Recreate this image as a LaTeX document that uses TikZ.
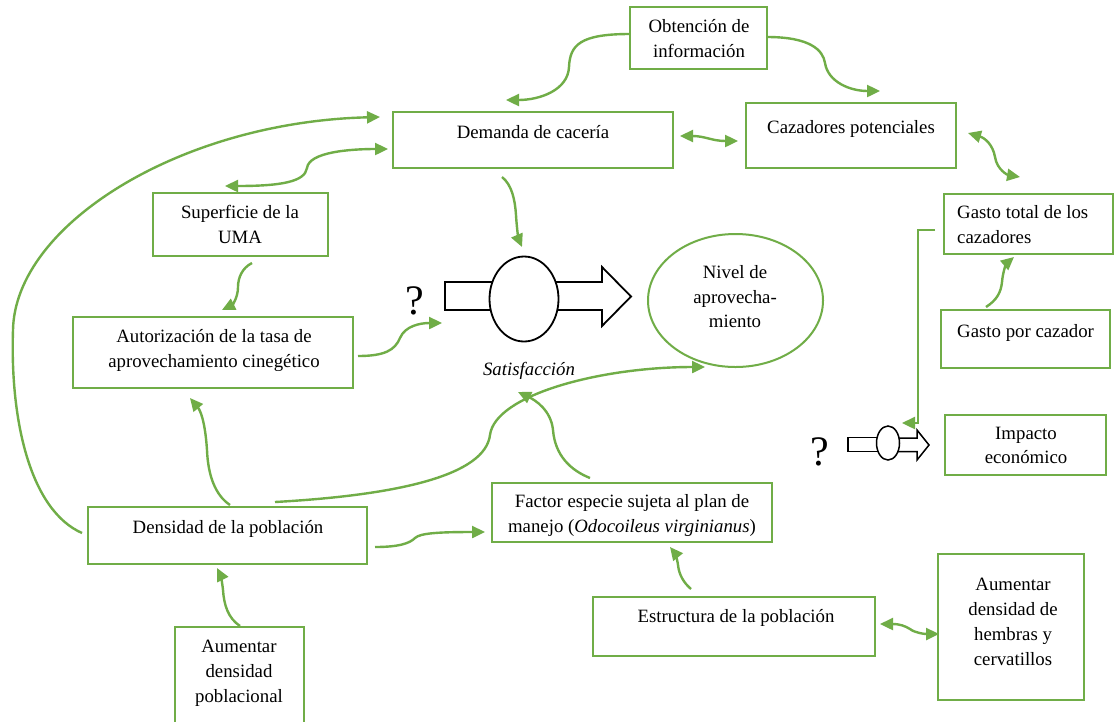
\documentclass[tikz,border=0pt]{standalone}
\usepackage{fontspec}
\setmainfont{Liberation Serif}
\usetikzlibrary{arrows.meta,calc,shapes.geometric}
\definecolor{lgreen}{RGB}{112,173,71}
\begin{document}
\begin{tikzpicture}[x=1pt,y=-1pt,
  box/.style={draw=lgreen,line width=2pt,inner sep=0pt,outer sep=0pt},
  txt/.style={anchor=base,inner sep=0pt,font=\fontsize{18.8}{25}\selectfont},
  ltxt/.style={txt,anchor=base west},
  flow/.style={draw=lgreen,line width=2.4pt,-{Triangle[length=13pt,width=12pt]}},
  flowtwo/.style={draw=lgreen,line width=2.4pt,{Triangle[length=13pt,width=12pt]}-{Triangle[length=13pt,width=12pt]}},
  valve/.style={draw=black,line width=1.8pt,fill=white,outer sep=0pt},
  valvesmall/.style={draw=black,line width=1.5pt,fill=white,outer sep=0pt},
  qmark/.style={anchor=base,inner sep=0pt,font=\fontsize{42}{42}\selectfont}]

\useasboundingbox (0,0) rectangle (1115,721);
\fill[white] (0,0) rectangle (1115,721);

% ---- boxes ----
\node[box,minimum width=137,minimum height=62] (obt) at (698.5,38) {};
\node[box,minimum width=280,minimum height=56] (dem) at (533,140) {};
\node[box,minimum width=210,minimum height=65] (caz) at (851,135.5) {};
\node[box,minimum width=169,minimum height=60] (gtot) at (1028.5,224) {};
\node[box,minimum width=169,minimum height=58] (gpc) at (1025.5,339) {};
\node[box,minimum width=161,minimum height=60] (imp) at (1025.5,445) {};
\node[box,minimum width=175,minimum height=63] (sup) at (240.5,224.5) {};
\node[box,minimum width=280,minimum height=71] (aut) at (213,352.5) {};
\node[box,minimum width=279,minimum height=57] (den) at (227.5,535.5) {};
\node[box,minimum width=280,minimum height=59] (fac) at (632,512.5) {};
\node[box,minimum width=282,minimum height=59] (est) at (734,626.5) {};
\node[box,minimum width=146,minimum height=146] (hem) at (1011,627) {};
\node[box,minimum width=129,minimum height=113] (aup) at (239.5,683.5) {};
\node[box,ellipse,minimum width=175,minimum height=133] (niv) at (735.5,300.5) {};

% ---- box texts ----
\node[txt] (obt-a) at (699,32) {Obtención de};
\node[txt] (obt-b) at (699,57) {información};
\node[txt] (dem-a) at (533,138) {Demanda de cacería};
\node[txt] (caz-a) at (851,133) {Cazadores potenciales};
\node[ltxt] (gtot-a) at (957,218) {Gasto total de los};
\node[ltxt] (gtot-b) at (957,243) {cazadores};
\node[ltxt] (gpc-a) at (957,337) {Gasto por cazador};
\node[txt] (imp-a) at (1026,439) {Impacto};
\node[txt] (imp-b) at (1026,463) {económico};
\node[txt] (sup-a) at (240,218) {Superficie de la};
\node[txt] (sup-b) at (240,243) {UMA};
\node[txt] (aut-a) at (214,342) {Autorización de la tasa de};
\node[txt] (aut-b) at (214,367) {aprovechamiento cinegético};
\node[txt] (den-a) at (228,533) {Densidad de la población};
\node[txt] (niv-a) at (735,278) {Nivel de};
\node[txt] (niv-b) at (735,303) {aprovecha-};
\node[txt] (niv-c) at (735,327) {miento};
\node[txt,font=\fontsize{18.8}{25}\selectfont\itshape] (sat) at (529,375) {Satisfacción};
\node[txt] (fac-a) at (632,507) {Factor especie sujeta al plan de};
\node[txt] (fac-b) at (632,532) {manejo (\textit{Odocoileus virginianus})};
\node[txt] (est-a) at (736,622) {Estructura de la población};
\node[txt] (hem-a) at (1013,590) {Aumentar};
\node[txt] (hem-b) at (1013,615) {densidad de};
\node[txt] (hem-c) at (1013,640) {hembras y};
\node[txt] (hem-d) at (1013,665) {cervatillos};
\node[txt] (aup-a) at (239,652) {Aumentar};
\node[txt] (aup-b) at (239,677) {densidad};
\node[txt] (aup-c) at (239,702) {poblacional};

% ---- flow valves ----
\draw[valve] (505,282) -- (445,282) -- (445,310) -- (505,310);
\draw[valve] (540,282) -- (602,282) -- (602,267) -- (631,296.5) -- (602,326) -- (602,310) -- (540,310);
\node[valve,ellipse,minimum width=69,minimum height=85,inner sep=0pt] (v1) at (524,299) {};
\node[qmark] (q1) at (415,314) {?};

\draw[valvesmall] (880,437.5) -- (848,437.5) -- (848,451.5) -- (880,451.5);
\draw[valvesmall] (895,438) -- (917,438) -- (917,430) -- (929,445) -- (917,460) -- (917,451.5) -- (895,451.5);
\node[valvesmall,ellipse,minimum width=23,minimum height=34,inner sep=0pt] (v2) at (888,443) {};
\node[qmark] (q2) at (820,465) {?};

% ---- connectors ----
\draw[flow] ($(obt.west)+(0,-4)$) .. controls (580,34) and (570,45) .. (569,67)
  .. controls (568,90) and (540,100) .. ($(dem.north)+(-27,-12)$);
\draw[flow] ($(obt.east)+(0,-1)$) .. controls (810,37) and (823,50) .. (825,63)
  .. controls (828,82) and (850,91) .. ($(caz.north)+(29,-12)$);
\draw[flowtwo] ($(dem.east)+(7,-4)$) .. controls (705,136) and (712,141) .. ($(caz.west)+(-8,5.5)$);
\draw[flowtwo] ($(caz.east)+(12,-2.5)$) .. controls (985,138) and (993,145) .. (995,157)
  .. controls (997,170) and (1008,175) .. ($(gtot.north)+(-8.5,-17)$);
\draw[flow] ($(den.west)+(-6,-2.5)$) .. controls (30,510) and (10,420) .. (13,330)
  .. controls (15,225) and (180,122) .. ($(dem.west)+(-13,-23)$);
\draw[flowtwo] ($(sup.north)+(-15.5,-7)$) .. controls (280,186) and (305,182) .. (307,168)
  .. controls (309,152) and (350,149) .. ($(dem.west)+(-5,9)$);
\draw[flow] ($(sup.south)+(11.5,7)$) .. controls (242,268) and (238,278) .. (238,287)
  .. controls (238,298) and (232,305) .. ($(aut.north)+(9,-7)$);
\draw[flow] ($(aut.east)+(5,3.5)$) .. controls (385,356) and (395,350) .. (400,338)
  .. controls (405,326) and (420,323) .. ($(v1.west)+(-47.5,24)$);
\draw[flow] ($(dem.south)+(-31,9)$) .. controls (512,185) and (515,200) .. (516,215)
  .. controls (517,232) and (519,240) .. ($(v1.north)+(-2,-9.5)$);
\draw[flow] ($(den.north)+(2.5,-2)$) .. controls (215,495) and (208,475) .. (207,450)
  .. controls (205,420) and (200,410) .. ($(aut.south)+(-23,10)$);
\draw[flow] ($(den.north)+(47.5,-5)$) .. controls (400,495) and (485,475) .. (490,435)
  .. controls (495,395) and (600,367) .. ($(niv.south)+(-30.5,0)$);
\draw[flow] ($(fac.north)+(-42,-5)$) .. controls (570,470) and (555,455) .. (553,430)
  .. controls (551,410) and (535,400) .. ($(sat.base)+(-11,17)$);
\draw[flow] ($(den.east)+(8,11.5)$) .. controls (400,547) and (410,543) .. (415,538)
  .. controls (420,533) and (440,532) .. ($(fac.west)+(-7,19.5)$);
\draw[flow] ($(aup.north)+(0.5,-1)$) .. controls (228,618) and (224,605) .. (223,590)
  .. controls (222,580) and (220,574) .. ($(den.south)+(-10.5,4)$);
\draw[flow] ($(est.north)+(-43,-8)$) .. controls (684,583) and (679,575) .. (678,565)
  .. controls (677,557) and (674,552) .. ($(fac.south)+(38,5)$);
\draw[flowtwo] ($(est.east)+(5,-2.5)$) .. controls (900,624) and (905,626) .. (910,629)
  .. controls (915,633) and (925,634) .. ($(hem.west)+(1,7)$);
\draw[flow] ($(gpc.north)+(-39.5,-3)$) .. controls (997,300) and (1001,292) .. (1002,282)
  .. controls (1003,270) and (1007,263) .. ($(gtot.south)+(-14.5,3)$);
\draw[flow] ($(gtot.west)+(-9,6)$) -- (918,230) -- (918,423) -- ($(v2.north)+(14,-3)$);
\end{tikzpicture}
\end{document}
